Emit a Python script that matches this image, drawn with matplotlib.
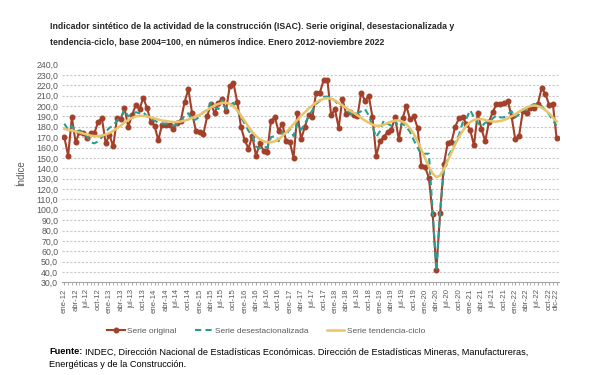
import matplotlib.pyplot as plt

# ISAC, indice base 2004=100, ene-12 a dic-22
meses = ['ene', 'feb', 'mar', 'abr', 'may', 'jun', 'jul', 'ago', 'sep', 'oct', 'nov', 'dic']
anios = ['12', '13', '14', '15', '16', '17', '18', '19', '20', '21', '22']
periodos = [m + '-' + a for a in anios for m in meses]

original = [170, 152, 189, 165, 175, 174, 169, 174, 174, 185, 188, 164,
            172, 161, 188, 187, 198, 180, 191, 201, 197, 208, 198, 185,
            181, 167, 182, 182, 182, 178, 184, 186, 204, 216, 193, 176,
            175, 173, 190, 202, 193, 203, 207, 195, 219, 222, 204, 180,
            167, 159, 171, 152, 164, 157, 156, 186, 189, 176, 183, 166,
            165, 150, 193, 168, 180, 191, 189, 213, 213, 225, 225, 191,
            197, 179, 207, 192, 194, 191, 190, 213, 205, 210, 189, 152,
            166, 170, 175, 177, 189, 168, 188, 200, 187, 190, 179, 142,
            141, 131, 96, 42, 97, 144, 164, 165, 180, 188, 189, 183,
            177, 162, 193, 178, 166, 185, 194, 202, 202, 203, 205, 190,
            168, 171, 195, 193, 198, 198, 202, 217, 212, 201, 202, 169]

desestacionalizada = [183, 177, 181, 175, 176, 174, 171, 165, 164, 166, 170, 175,
                      179, 181, 186, 189, 196, 190, 192, 194, 193, 194, 190, 188,
                      186, 184, 183, 183, 182, 181, 182, 185, 191, 193, 186, 187,
                      190, 194, 196, 203, 199, 197, 206, 197, 201, 203, 196, 189,
                      183, 176, 172, 161, 159, 161, 160, 170, 171, 166, 175, 172,
                      178, 171, 183, 177, 183, 190, 196, 202, 205, 209, 209, 208,
                      205, 201, 202, 197, 193, 191, 193, 195, 197, 191, 180, 170,
                      176, 186, 183, 181, 186, 180, 183, 180, 175, 167, 160, 153,
                      154, 154, 99, 41, 99, 138, 151, 157, 165, 172, 184, 188,
                      196, 189, 184, 180, 184, 185, 188, 191, 189, 189, 192, 195,
                      189, 192, 196, 197, 200, 202, 201, 200, 196, 192, 186, 181]

tendencia = [178, 177, 176.5, 175.5, 174.5, 173.5, 172.5, 171.5, 171, 171, 171.5, 172.5,
             174, 176, 178.5, 181, 184, 186.5, 188.5, 190, 190.5, 190.5, 190, 189,
             188, 187, 186, 185.5, 185, 184.5, 184.5, 185, 186, 187, 188.5, 190,
             191.5, 193.5, 196, 198.5, 200.5, 202, 203, 203, 202, 199.5, 196, 191,
             185.5, 180, 175, 171, 168, 166, 165, 165, 166, 168, 171, 174.5,
             178.5, 182.5, 186.5, 190.5, 194, 197.5, 200.5, 203.5, 205.5, 207, 207.5, 207,
             205.5, 203, 200.5, 198, 195.5, 193.5, 191, 188.5, 186, 184, 182, 181,
             181, 182, 183.5, 185, 186, 186, 185, 182.5, 178.5, 173, 166, 158,
             149.5, 141.5, 135, 131.5, 133, 139, 147, 155, 163, 170, 176, 181,
             184.5, 186.5, 187.5, 187.5, 186.5, 185.5, 185, 185, 185.5, 186.5, 188, 190,
             192, 194.5, 196.5, 198.5, 200, 200.5, 200, 198.5, 196, 193, 189, 185]

x = list(range(len(periodos)))
gris = '#595959'
fuente = ['Liberation Sans', 'DejaVu Sans']

fig = plt.figure(figsize=(5.99, 3.75), dpi=100)
ax = fig.add_axes([0.104, 0.247, 0.829, 0.581])

ax.plot(x, original, color='#A3402A', lw=1.5, marker='o', markersize=3.3,
        label='Serie original', zorder=3)
ax.plot(x, desestacionalizada, color='#2A9D92', lw=1.5, dashes=(3, 2),
        label='Serie desestacionalizada', zorder=4)
ax.plot(x, tendencia, color='#EBC46A', lw=1.8, label='Serie tendencia-ciclo', zorder=5)

# eje y
yticks = list(range(30, 241, 10))
ax.set_ylim(30, 240)
ax.set_yticks(yticks)
ax.set_yticklabels([('%.1f' % v).replace('.', ',') for v in yticks], fontsize=6.3,
                   color=gris, family=fuente)
ax.set_ylabel('Índice', fontsize=7, color=gris, family=fuente, labelpad=7)
ax.yaxis.grid(True, color='#C8C8C8', lw=0.8, ls=(0, (2, 1.5)))
ax.set_axisbelow(True)

# eje x: marcas mensuales, etiqueta cada tres meses
ax.set_xlim(-0.55, 131.6)
pos = x[::3] + [x[-1]]
ax.set_xticks(pos)
ax.set_xticklabels([periodos[i] for i in pos], rotation=90, fontsize=5.6, color=gris,
                   family=fuente)
ax.set_xticks(x, minor=True)
ax.tick_params(axis='x', which='both', length=2.5, color='#A6A6A6', pad=2)
ax.tick_params(axis='y', length=0, pad=3)

for s in ['top', 'right', 'left']:
    ax.spines[s].set_visible(False)
ax.spines['bottom'].set_color('#A6A6A6')

fig.text(50 / 599, 1 - 34 / 375,
         'Indicador sintético de la actividad de la construcción (ISAC). Serie original, desestacionalizada y\n'
         'tendencia-ciclo, base 2004=100, en números índice. Enero 2012-noviembre 2022',
         fontsize=6.3, fontweight='bold', color='#262626', va='center', linespacing=1.95,
         family=fuente)

leg = fig.legend(loc='center', bbox_to_anchor=(266 / 599, 1 - 331 / 375), ncol=3,
                 frameon=False, handlelength=2.1, handletextpad=0.3, columnspacing=2.2,
                 prop={'family': fuente, 'size': 6})
for t in leg.get_texts():
    t.set_color(gris)

# nota de fuente
etiqueta = fig.text(49 / 599, 1 - 354.5 / 375, 'Fuente:', fontsize=6.6, fontweight='bold',
                    va='baseline', family=fuente)
r = fig.canvas.get_renderer()
fin = etiqueta.get_window_extent(r).x1 / fig.bbox.width
fig.text(fin + 3 / 599, 1 - 354.5 / 375,
         'INDEC, Dirección Nacional de Estadísticas Económicas. Dirección de Estadísticas Mineras, Manufactureras,',
         fontsize=6.6, va='baseline', family=fuente)
fig.text(49 / 599, 1 - 367 / 375, 'Energéticas y de la Construcción.', fontsize=6.6,
         va='baseline', family=fuente)

plt.savefig('out.png', dpi=100)
